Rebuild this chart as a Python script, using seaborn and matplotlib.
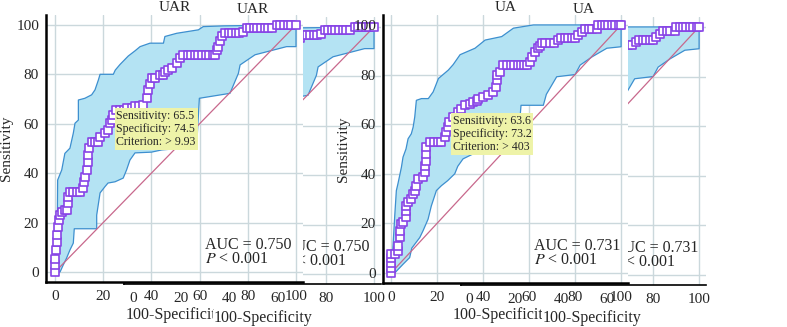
import numpy as np
import pandas as pd
import matplotlib
matplotlib.use("Agg")
import matplotlib.pyplot as plt
import seaborn as sns

# ---------------- data ----------------
ticks = [0, 20, 40, 60, 80, 100]

uar_x = [0, 0, 0, 0.4, 0.7, 0.7, 1.1, 1.7, 2.1, 2.8, 4, 5, 5.5, 5.5, 6.2, 7.5, 9, 10.5, 11.7, 12.2,
         12.5, 13.2, 13.6, 13.9, 14.2, 15.3, 16.5, 17.9, 18.7, 20.7, 22.1, 22.8, 23.5, 24.2, 25.5, 27,
         28.5, 30, 31.8, 33.2, 35, 36.6, 38, 38.7, 39.5, 40.1, 41.5, 43.6, 45, 45.6, 47, 48.4, 50.5,
         51.8, 53.2, 55, 56.5, 58, 59.5, 61, 62.5, 64, 65.5, 66.4, 67.1, 67.8, 68.5, 69.2, 70.5, 72,
         73.5, 75, 76.5, 78.1, 79.5, 81, 82.5, 84, 85.5, 87, 88.5, 90, 92, 93.5, 95, 96.5, 98, 100]
uar_y = [0, 2.7, 5.4, 8.8, 12.1, 14.8, 18.2, 20.9, 22.9, 24.3, 25, 25, 27.8, 30.5, 32.5, 32.5, 32.5,
         32.5, 33.9, 36.6, 38.6, 41.3, 44.7, 47.4, 50.1, 52.8, 52.8, 52.8, 54.8, 56.1, 57.5, 60.2, 61.6,
         63.6, 65.5, 65.5, 65.5, 66.2, 66.2, 67.2, 67.2, 67.6, 70.3, 73.7, 76, 78.4, 78.4, 79.8, 79.8,
         81.1, 81.8, 82.5, 84.5, 86.5, 87.9, 87.9, 87.9, 87.9, 87.9, 87.9, 87.9, 87.9, 87.9, 87.9, 89.9,
         91.2, 93.3, 95.3, 96.6, 96.6, 96.6, 96.6, 96.6, 97.3, 98.7, 98.7, 98.7, 98.7, 98.7, 98.7, 98.7,
         98.7, 100, 100, 100, 100, 100, 100]
uar_up_x = [0, 0.5, 1, 1.1, 2.8, 4.1, 6.2, 7.6, 8.3, 9.7, 9.7, 12.4, 15.2, 16.6, 18, 18.7, 24.2, 25,
            27, 30.4, 33.2, 35.3, 39.4, 45, 45.6, 50.5, 59.5, 61.5, 70, 100]
uar_up_y = [0, 10, 25, 37.2, 41.3, 48, 50.1, 56.2, 60.2, 61.5, 69.6, 70.3, 71.7, 73.7, 77.7, 80, 80,
            81.7, 84, 87.4, 89.5, 91.2, 92.6, 92.6, 95.3, 96.6, 98, 99.3, 99.6, 100]
uar_lo_x = [0, 2.1, 3.4, 4.8, 6.2, 7.6, 8, 17.3, 17.3, 18.7, 20.7, 22, 24.9, 28.3, 29.7, 31.1, 33.2,
            40, 44.3, 52, 58.8, 59.9, 72.6, 76.1, 76.8, 83, 96.1, 100, 100]
uar_lo_y = [0, 0, 2.8, 5.6, 8.9, 11.7, 17.5, 17.5, 23, 32, 34.5, 36, 36.5, 38, 41.3, 45.3, 48.2, 48.5,
            49.4, 50, 51.4, 70.3, 72.3, 80.4, 83.8, 87.9, 91.2, 91.2, 100]

ua_x = [0, 0, 0, 0, 0, 1.6, 3, 3, 3.8, 3.8, 4.5, 5.2, 6.7, 6.7, 6.7, 7.4, 8.8, 9.6, 10.3, 11, 11.7,
        13.9, 14.6, 14.6, 15, 15.4, 15.4, 16.8, 18.5, 20.2, 21.9, 23.3, 24, 24.7, 25.4, 27, 29.1, 30.6,
        32, 34.2, 35.6, 37.2, 37.8, 40, 42.3, 44.5, 45.5, 46, 46, 47.5, 48.8, 50.5, 52, 53.5, 55, 56.5,
        58, 59, 60.4, 61.2, 62.6, 64, 64.8, 65.5, 67, 69, 71, 72.5, 74, 75.5, 77, 78.5, 80, 81.4, 82.9,
        84.3, 86, 87.5, 89.4, 90.1, 91.5, 93, 94.5, 96, 97.5, 99, 100]
ua_y = [0, 2, 4.2, 6.2, 7.6, 7.6, 8.9, 10.9, 14.3, 17, 19.7, 20.4, 22.4, 25.1, 27.1, 28.5, 29.8, 31.9,
        33.2, 35.2, 37.9, 38.6, 40.6, 43.3, 45.3, 48, 50.7, 52.7, 52.7, 52.7, 52.7, 54.8, 56.8, 58.8,
        60.9, 62.9, 64.9, 66.2, 67.6, 68.3, 69, 69.4, 70.3, 71, 71.6, 73, 75, 77.7, 79.7, 81.1, 83.8,
        83.8, 83.8, 83.8, 83.8, 83.8, 83.8, 83.8, 85.1, 87.2, 89.2, 90.6, 91.6, 92.6, 92.6, 92.6, 92.6,
        94, 94.6, 94.6, 94.6, 94.6, 94.6, 95.9, 97.2, 98.4, 98.4, 98.4, 98.4, 100, 100, 100, 100, 100,
        100, 100, 100]
ua_up_x = [0, 0.5, 0.9, 1.6, 2.3, 3, 4.5, 5.2, 6.5, 7.4, 8.8, 9.6, 10.3, 11, 13.2, 16.2, 18.3, 20.6,
           24.9, 27, 30, 36.5, 40.9, 48.1, 53.2, 61.9, 100]
ua_up_y = [0, 5, 11.7, 23, 33.2, 36, 42.6, 46.7, 50, 54.1, 56.1, 58.8, 62.9, 69.6, 70.3, 70.3, 73,
           78.4, 81.8, 84, 88, 90.6, 93.9, 95.3, 98.7, 100, 100]
ua_lo_x = [0, 1.6, 5.2, 8.1, 9, 12.5, 13.9, 16.1, 17.5, 19.7, 21.9, 24.6, 27.7, 29, 31.3, 37, 40, 55,
           56.5, 66.2, 67.5, 72, 80, 82.2, 87.5, 93.8, 100, 100]
ua_lo_y = [0, 0, 3.5, 6.2, 10, 14.3, 17, 21.7, 27, 33.2, 35.2, 37.2, 40, 43, 46, 48.6, 50, 51, 67.6,
           67.6, 72, 79.1, 80, 83.8, 87.2, 90.6, 91.2, 100]

uar_crit = (25.5, 65.5)
ua_crit = (26.8, 63.6)
uar_box = "Sensitivity: 65.5\nSpecificity: 74.5\nCriterion: > 9.93"
ua_box = "Sensitivity: 63.6\nSpecificity: 73.2\nCriterion: > 403"
uar_auc = "AUC = 0.750"
ua_auc = "AUC = 0.731"
p_text = r"$P$ < 0.001"
titles = ["UAR", "UA"]
xlabel = "100-Specificity"
ylabel = "Sensitivity"

# ---------------- style ----------------
sns.set_style("white")
plt.rcParams["font.family"] = ["Liberation Serif", "DejaVu Serif"]
plt.rcParams["mathtext.fontset"] = "stix"

W, H = 787, 327
fig = plt.figure(figsize=(W / 100, H / 100), dpi=100)


def rect(l, t, r, b):
    return [l / W, 1 - b / H, (r - l) / W, (b - t) / H]


BAND = "#b4e3f3"
BAND_EDGE = "#3d8fcf"
DIAG = "#c8688c"
LINE = "#2f1f7a"
MARK = "#8844e6"
GRID = "#cbd8dc"
BOX = "#eef3a8"


def draw(ax, cx, cy, ux, uy, lx, ly, crit, box, auc, title, xlim, ghost=False):
    ax.set_facecolor("white")
    ax.set_xlim(*xlim)
    ax.set_ylim(-4.05, 104.0)
    ax.set_axisbelow(True)
    ax.set_xticks(ticks)
    ax.set_yticks(ticks)
    ax.grid(True, color=GRID, lw=1.0)
    poly_x = list(ux) + list(lx)[::-1]
    poly_y = list(uy) + list(ly)[::-1]
    ax.fill(poly_x, poly_y, color=BAND, lw=0, zorder=1)
    sns.lineplot(x=ux, y=uy, sort=False, estimator=None, color=BAND_EDGE, lw=0.9, ax=ax, zorder=2)
    sns.lineplot(x=lx, y=ly, sort=False, estimator=None, color=BAND_EDGE, lw=0.9, ax=ax, zorder=2)
    sns.lineplot(x=[0, 100], y=[0, 100], sort=False, estimator=None, color=DIAG, lw=0.9, ax=ax, zorder=3)
    sns.lineplot(x=cx, y=cy, sort=False, estimator=None, color=LINE, lw=1.3, ax=ax, zorder=4)
    sns.scatterplot(x=cx, y=cy, marker="s", s=30, facecolor="white", edgecolor=MARK,
                    linewidth=1.2, ax=ax, zorder=5)
    ax.text(crit[0], crit[1], box, ha="left", va="top", fontsize=8.6, zorder=6, linespacing=1.1,
            bbox=dict(boxstyle="square,pad=0.15", fc=BOX, ec="none"))
    ax.text(62.3, 11.0, auc, ha="left", va="center", fontsize=11.5, zorder=6)
    ax.text(62.3, 5.2, p_text, ha="left", va="center", fontsize=11.5, zorder=6)
    ax.set_title(title, fontsize=11, pad=3)
    ax.set_xlabel("")
    ax.set_ylabel(ylabel, fontsize=11, labelpad=2)
    for s in ["top", "right"]:
        ax.spines[s].set_visible(False)
    for s in ["left", "bottom"]:
        ax.spines[s].set_color("black")
        ax.spines[s].set_linewidth(1.8 if not ghost else 1.2)
    ax.tick_params(axis="y", length=3.5, width=1, pad=1.5, labelsize=11, color="black")
    ax.tick_params(axis="x", length=0, pad=6, labelsize=11)


# ghost copies (drawn first, partly hidden)
g1 = fig.add_axes(rect(124, 17, 381, 284))
draw(g1, uar_x, uar_y, uar_up_x, uar_up_y, uar_lo_x, uar_lo_y, uar_crit, uar_box, uar_auc, titles[0],
     (-3.73, 102.9), ghost=True)
g2 = fig.add_axes(rect(461, 17, 706, 285))
draw(g2, ua_x, ua_y, ua_up_x, ua_up_y, ua_lo_x, ua_lo_y, ua_crit, ua_box, ua_auc, titles[1],
     (-3.5, 103.0), ghost=True)

# main panels
a1 = fig.add_axes(rect(46, 15, 303, 282))
draw(a1, uar_x, uar_y, uar_up_x, uar_up_y, uar_lo_x, uar_lo_y, uar_crit, uar_box, uar_auc, titles[0],
     (-3.73, 102.9))
a2 = fig.add_axes(rect(383, 15, 628, 283))
draw(a2, ua_x, ua_y, ua_up_x, ua_up_y, ua_lo_x, ua_lo_y, ua_crit, ua_box, ua_auc, titles[1],
     (-3.5, 103.0))

# x labels (main and ghost copies)
for cxp, cyp in [(175, 315), (502, 315)]:
    fig.text(cxp / W, 1 - cyp / H, xlabel, ha="center", va="center", fontsize=11.5)
for cxp, cyp in [(263, 318), (592, 318)]:
    fig.text(cxp / W, 1 - cyp / H, xlabel, ha="center", va="center", fontsize=11.5, zorder=10,
             bbox=dict(boxstyle="square,pad=0.02", fc="white", ec="none"))

fig.savefig("out.png", dpi=100)
